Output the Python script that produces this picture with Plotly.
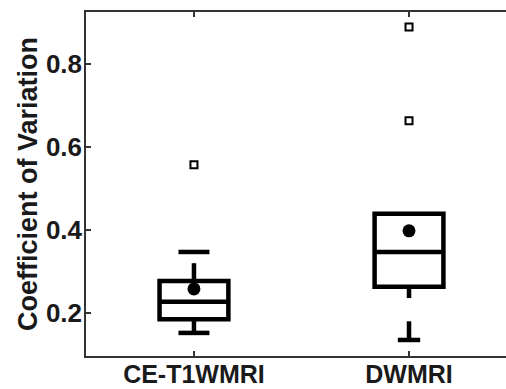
import plotly.graph_objects as go

categories = ["CE-T1WMRI", "DWMRI"]
q1 = [0.185, 0.263]
median = [0.227, 0.347]
q3 = [0.277, 0.439]
means = [0.258, 0.398]
# whisker stem segments (start, end) per category
whisker_segments = [
    [(0.277, 0.320), (0.185, 0.152)],
    [(0.263, 0.236), (0.180, 0.135)],
]
# whisker cap values per category
whisker_caps = [[0.347, 0.152], [0.135]]
outliers = [[0.557], [0.889, 0.663]]
y_ticks = [0.2, 0.4, 0.6, 0.8]
y_title = "Coefficient of Variation"

# style
cap_half = [0.072, 0.052]
FONT = "Liberation Sans"
LW = 4.5

fig = go.Figure()

xs = list(range(len(categories)))

fig.add_trace(go.Box(
    x=xs, q1=q1, median=median, q3=q3, lowerfence=q1, upperfence=q3,
    width=0.32, boxpoints=False, whiskerwidth=0,
    line=dict(color="black", width=LW), fillcolor="white",
    showlegend=False, hoverinfo="skip",
))

for i, segs in enumerate(whisker_segments):
    for (a, b) in segs:
        fig.add_trace(go.Scatter(x=[xs[i], xs[i]], y=[a, b], mode="lines",
                                 line=dict(color="black", width=LW),
                                 showlegend=False, hoverinfo="skip"))
    for c in whisker_caps[i]:
        fig.add_trace(go.Scatter(x=[xs[i] - cap_half[i], xs[i] + cap_half[i]], y=[c, c],
                                 mode="lines", line=dict(color="black", width=LW),
                                 showlegend=False, hoverinfo="skip"))

fig.add_trace(go.Scatter(x=xs, y=means, mode="markers",
                         marker=dict(symbol="circle", size=13, color="black"),
                         showlegend=False))

for i, outs in enumerate(outliers):
    fig.add_trace(go.Scatter(x=[xs[i]] * len(outs), y=outs, mode="markers",
                             marker=dict(symbol="square-open", size=7, color="black",
                                         line=dict(width=2, color="black")),
                             showlegend=False))

fig.update_layout(
    width=506, height=389,
    margin=dict(l=86, r=0, t=12, b=33, autoexpand=False),
    paper_bgcolor="white", plot_bgcolor="white",
    font=dict(family=FONT, color="#1a1a1a", size=26, weight="bold"),
)
fig.update_xaxes(
    range=[-0.502, 1.451], tickvals=xs, ticktext=categories,
    showline=True, linecolor="#333", linewidth=1.5, mirror="ticks",
    ticks="inside", ticklen=5, tickcolor="#333", tickwidth=1.5,
    showgrid=False, zeroline=False, automargin=False, ticklabelstandoff=-5,
    tickfont=dict(family=FONT, size=25, weight="bold", color="#1a1a1a"),
)
fig.update_yaxes(
    range=[0.0964, 0.925], tickvals=y_ticks, ticktext=[f"{v:.1f}" for v in y_ticks],
    showline=True, linecolor="#333", linewidth=1.5, mirror=False,
    ticks="inside", ticklen=5, tickcolor="#333", tickwidth=1.5,
    showgrid=False, zeroline=False, automargin=False, ticklabelstandoff=-3,
    tickfont=dict(family=FONT, size=26, weight="bold", color="#1a1a1a"),
    title=dict(text=y_title, font=dict(family=FONT, size=27, weight="bold", color="#1a1a1a"),
               standoff=0),
)

fig.write_html(
    "out.html", config={"displayModeBar": False},
    post_script=(
        "document.documentElement.style.overflow='hidden';"
        "document.body.style.margin='0';document.body.style.overflow='hidden';"
        "document.querySelectorAll('.plotly-graph-div').forEach(function(d){d.style.overflow='hidden';});"
        "document.querySelectorAll('svg.main-svg').forEach(function(s){s.style.overflow='hidden';});"
    ),
)
